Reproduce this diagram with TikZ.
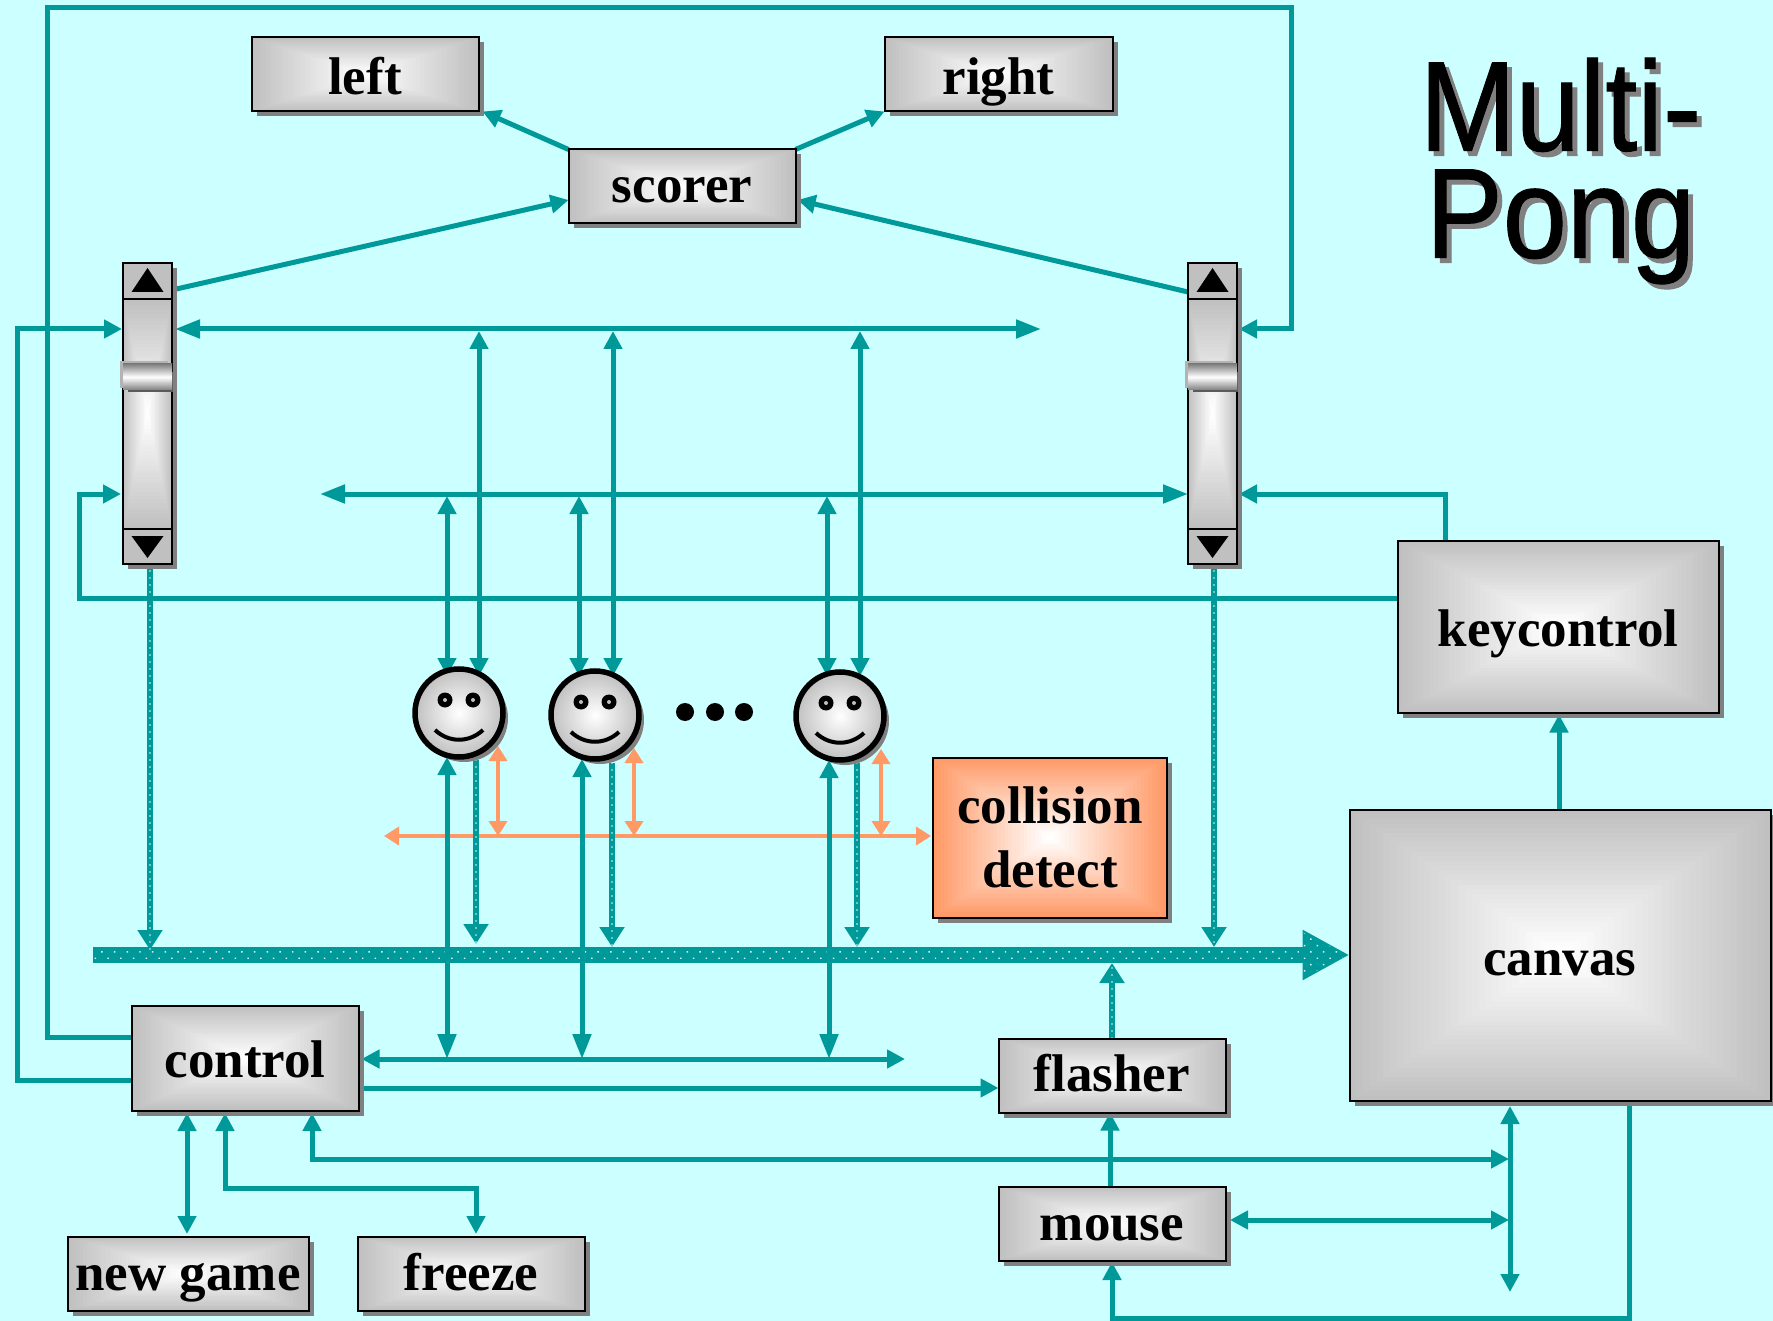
\documentclass[tikz,border=0pt]{standalone}
\usepackage{fontspec}
\setmainfont{Liberation Serif}
\newfontfamily\titlef[FakeStretch=0.9,FakeBold=0.8]{Liberation Sans}
\usetikzlibrary{arrows.meta,calc,patterns.meta,shadings}
\definecolor{bgc}{HTML}{CCFFFF}
\definecolor{tealc}{HTML}{009999}
\definecolor{orc}{HTML}{FF9966}
\definecolor{silv}{HTML}{C0C0C0}
\definecolor{shd}{HTML}{808080}
\definecolor{dotc}{HTML}{D8F8F8}
\pgfdeclarelayer{bglayer}
\pgfdeclarelayer{connlayer}
\pgfsetlayers{bglayer,connlayer,main}
\tikzset{
  tp/.tip={Triangle[length=18pt,width=18pt]},
  tl/.tip={Triangle[length=25pt,width=18pt]},
  tor/.tip={Triangle[length=15pt,width=18pt]},
  tbus/.tip={Triangle[length=47pt,width=47pt]},
  tdot/.tip={Triangle[length=20pt,width=24pt]},
  conn/.style={draw=tealc,line width=5pt},
  orconn/.style={draw=orc,line width=4.5pt},
  dotconn/.style={draw=tealc,line width=6pt,
    postaction={draw=dotc,arrows=-,line width=1.7pt,line cap=round,dash pattern=on 0pt off 7pt}},
  gfill/.style={path picture={
    \foreach \i in {0,...,30}{
      \pgfmathsetmacro{\p}{100-100*\i/30}
      \pgfmathsetmacro{\t}{\i/31}
      \fill[color=#1!\p!white]
        ($(path picture bounding box.south west)!\t!(path picture bounding box.center)$)
        rectangle
        ($(path picture bounding box.north east)!\t!(path picture bounding box.center)$);
    }}},
  gfill/.default=silv,
  shadowed/.style={preaction={fill=shd,draw=none,transform canvas={shift={(5pt,-5pt)}}}},
  labelbox/.style={draw=black,line width=2pt,inner sep=0pt,outer sep=0pt,shadowed,gfill=#1,
    align=center,font=\bfseries\fontsize{53}{64}\selectfont},
  labelbox/.default=silv,
  face/.style={circle,draw=black,line width=5.5pt,minimum size=88pt,inner sep=0pt,outer sep=2.5pt,
    shadowed,inner color=white,outer color=silv,shade},
}
% box given by its corners and the drop of the text baseline below the box centre
\newcommand{\boxnode}[7]{%
  \node[labelbox,minimum width=#5pt-#3pt-1pt,minimum height=#6pt-#4pt-1pt,
        text height=2*#7pt,text depth=0pt] (#2)
    at ({(#3+#5)/2},{(#4+#6)/2}) {#1};}
\newcommand{\scrollbar}[2]{%
  \node[draw=black,line width=2pt,fill=silv,shadowed,inner sep=0pt,outer sep=0pt,
        minimum width=49pt,minimum height=301pt] (#1) at (#2,413.5) {};
  \path[gfill,draw=black,line width=2pt] ($(#1.west|-0,299)$) rectangle ($(#1.east|-0,529)$);
  \fill[black] (#2,268) -- (#2+16,292) -- (#2-16,292) -- cycle;
  \fill[black] (#2,558) -- (#2+16,536) -- (#2-16,536) -- cycle;
  \fill[color=silv!80!gray] (#2-28,361) rectangle (#2+20,388);
  \fill[color=shd!70!black] (#2-20,372) rectangle (#2+25,392);
  \shade[top color=shd,bottom color=shd,middle color=white] (#2-24.5,364) rectangle (#2+24.5,390);
}
\newcommand{\smiley}[3]{%
  \node[face] (#1) at (#2,#3) {};
  \fill[black] ($(#1)+(-14,-13)$) circle (7.5pt) ($(#1)+(14,-13)$) circle (7.5pt);
  \fill[color=silv] ($(#1)+(-14,-13)$) circle (2pt) ($(#1)+(14,-13)$) circle (2pt);
  \draw[black,line width=4pt] ($(#1)+(-24,17)$) .. controls ($(#1)+(-10,30)$) and ($(#1)+(10,30)$) .. ($(#1)+(24,17)$);
}
\begin{document}
\begin{tikzpicture}[x=1pt,y=-1pt]
\useasboundingbox (0,0) rectangle (1773,1321);
\begin{pgfonlayer}{bglayer}
  \fill[bgc] (0,0) rectangle (1773,1321);
\end{pgfonlayer}

% nodes
\boxnode{left}{left}{251}{37}{479}{112}{20}
\boxnode{right}{right}{884}{37}{1113}{112}{20}
\boxnode{scorer}{scorer}{568}{149}{796}{224}{16}
\boxnode{new game}{newgame}{67}{1236}{309}{1311}{17}
\boxnode{freeze}{freeze}{357}{1236}{585}{1311}{17}
\boxnode{control}{control}{131}{1005}{359}{1111}{19}
\boxnode{flasher}{flasher}{998}{1038}{1226}{1113}{16}
\boxnode{mouse}{mouse}{998}{1186}{1226}{1261}{17}
\boxnode{keycontrol}{keycontrol}{1397}{540}{1719}{713}{20}
\boxnode{canvas}{canvas}{1349}{809}{1771}{1101}{20}
\node[labelbox=orc,minimum width=234pt,minimum height=160pt] (collision) at (1050,837.5) {collision\\detect};

\scrollbar{sl}{147.5}
\scrollbar{sr}{1212.5}
\smiley{f1}{459}{713}
\smiley{f2}{595}{715}
\smiley{f3}{840}{716}
\fill[black] (685,712) circle (9pt) (715,712) circle (9pt) (744,712) circle (9pt);

\node[text=shd,font=\titlef\fontsize{128}{107}\selectfont,align=center,inner sep=0pt] at (1565.5,176) {Multi-\\Pong};
\node[text=black,font=\titlef\fontsize{128}{107}\selectfont,align=center,inner sep=0pt] (title) at (1560.5,171) {Multi-\\Pong};

\begin{pgfonlayer}{connlayer}
% free ends
\coordinate (busstart) at (93,955);
\coordinate (row1end) at (1041,329);
\coordinate (row2end) at (320,494);
\coordinate (orend) at (384,836);
\coordinate (ctlrowend) at (905,1059);
\coordinate (canvasdown) at (1510,1292);

% orange
\draw[orconn,tor-tor] (orend) -- ([xshift=-2pt]collision.west |- orend);
\foreach \x/\f/\ty in {498/f1/746,634/f2/748,881/f3/749}{
  \draw[orconn,tor-tor] (\x,\ty) -- (\x,836);
}

% bus
\draw[draw=tealc,line width=16pt,-tbus] (busstart) -- (canvas.west |- busstart);
\path[pattern={Dots[distance=9pt,radius=1.05pt,angle=45]},pattern color=dotc]
  (93,947) -- (1301,947) -- (1301,931.5) -- (1348,955) -- (1301,978.5) -- (1301,963) -- (93,963) -- cycle;

% scorer and labels
\draw[conn,-tp] (sl.east |- 0,290) -- (scorer.west |- 0,200);
\draw[conn,-tp] (sr.west |- 0,292) -- ([xshift=2pt]scorer.east |- 0,200);
\draw[conn,-tp] (scorer.north west) -- ([xshift=4pt]left.south east);
\draw[conn,-tp] (scorer.north east) -- (right.south west);

% row 1 and row 2
\draw[conn,tl-tl] ([xshift=3pt]sl.east |- row1end) -- (row1end);
\draw[conn,tl-tl] (row2end) -- (sr.west |- row2end);
\foreach \x/\f in {479/f1,613/f2,860/f3}{
  \draw[conn,tp-tp] (\x,331) -- (\x,676);
}
\foreach \x/\f in {447/f1,579/f2,827/f3}{
  \draw[conn,tp-tp] (\x,496) -- (\x,676);
}

% below faces
\draw[conn,tp-tl] (447,757) -- (447,1059);
\draw[conn,tp-tl] (582,759) -- (582,1059);
\draw[conn,tp-tl] (829,760) -- (829,1059);
\draw[dotconn,-tdot] (476,760) -- (476,944);
\draw[dotconn,-tdot] (612,763) -- (612,947);
\draw[dotconn,-tdot] (857,763) -- (857,947);

% scrollbar down to bus
\draw[dotconn,-tdot] (150,564) -- (150,950);
\draw[dotconn,-tdot] (1214,564) -- (1214,947);

% flasher to bus
\draw[dotconn,-tdot] (flasher.north |- 0,1038) -- (flasher.north |- 0,963);

% control outputs
\draw[conn,-tp] (control.west |- 0,1037) -- (47,1037) -- (47,8) -- (1291,8) -- (1291,329) -- ([xshift=2pt]sr.east |- 0,329);
\draw[conn,-tp] (control.west |- 0,1080) -- (17,1080) -- (17,329) -- ([xshift=-1pt]sl.west |- 0,329);
\draw[conn,tp-tp] ([xshift=3pt]control.east |- ctlrowend) -- (ctlrowend);
\draw[conn,-tp] (control.east |- 0,1088) -- (flasher.west |- 0,1088);
\draw[conn,tp-tp] (187,1113) -- (187,1234);
\draw[conn,tp-tp] (225,1113) -- (225,1188) -- (476,1188) -- (476,1234);
\draw[conn,tp-tp] (312,1113) -- (312,1159) -- (1509,1159);

% keycontrol
\draw[conn,-tp] (keycontrol.west |- 0,598) -- (79,598) -- (79,494) -- ([xshift=-2pt]sl.west |- 0,494);
\draw[conn,-tp] (1445,540) -- (1445,494) -- ([xshift=2pt]sr.east |- 0,494);
\draw[conn,-tp] (canvas.north -| 1559,0) -- ([yshift=-2pt]keycontrol.south -| 1559,0);

% canvas and mouse
\draw[conn,-tp] (1629,1101) -- (1629,1318) -- (1112,1318) -- (1112,1262);
\draw[conn,tp-tp] (1510,1106) -- (canvasdown);
\draw[conn,tp-tp] (1230,1220) -- (1509,1220);
\draw[conn,-tp] (mouse.north -| 1110,0) -- (flasher.south -| 1110,0);
\end{pgfonlayer}
\end{tikzpicture}
\end{document}
